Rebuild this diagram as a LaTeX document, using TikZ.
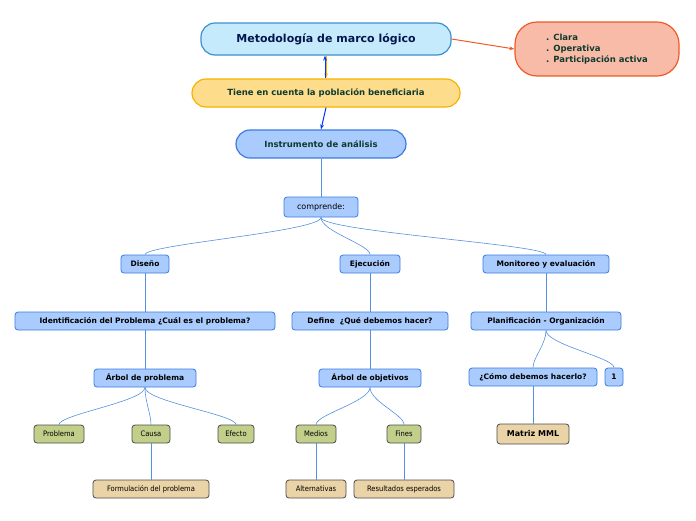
\documentclass[tikz,border=0pt]{standalone}
\usepackage{fontspec}
\setmainfont{DejaVu Sans}
\newfontfamily\condfont{DejaVu Sans Condensed}
\usetikzlibrary{arrows.meta}
\definecolor{titleFill}{HTML}{C5EAFB}
\definecolor{titleLine}{HTML}{3A90D0}
\definecolor{propFill}{HTML}{F8BBA8}
\definecolor{propLine}{HTML}{F05A28}
\definecolor{tieneFill}{HTML}{FDDD8C}
\definecolor{tieneLine}{HTML}{F5B300}
\definecolor{blueFill}{HTML}{A9CBFD}
\definecolor{blueLine}{HTML}{3B7BE0}
\definecolor{greenFill}{HTML}{C2CF8A}
\definecolor{tanFill}{HTML}{EAD3A6}
\definecolor{darkText}{HTML}{0E3B2E}
\definecolor{branch}{HTML}{5590E0}
\tikzset{
  box/.style={draw, line width=0.8pt, rounded corners=3pt, inner sep=0pt, align=center},
  pill/.style={box, rounded corners=14pt, line width=1.2pt},
  topic/.style={box, fill=blueFill, draw=blueLine, font=\bfseries\fontsize{7.5}{9}\selectfont, minimum height=18pt},
  leaf/.style={box, fill=greenFill, draw=black!70, font=\condfont\fontsize{7.5}{9}\selectfont, minimum height=18pt},
  tanleaf/.style={box, fill=tanFill, draw=black!70, font=\condfont\fontsize{7.5}{9}\selectfont, minimum height=18pt},
  link/.style={draw=branch, line width=0.6pt},
}
\newcommand{\branchTo}[2]{\draw[link] (#1.south) .. controls ([yshift=-14pt]#1.south) and ([yshift=10pt]#2.north) .. (#2.north);}
\begin{document}
\begin{tikzpicture}[x=1pt, y=-1pt]
  \useasboundingbox (0,0) rectangle (696,520);
  % main chain
  \node[pill, fill=titleFill, draw=titleLine, minimum width=250pt, minimum height=32pt, font=\bfseries\fontsize{11}{13}\selectfont, text=darkText!60!blue!60!black] (titulo) at (326,39) {Metodología de marco lógico};
  \node[pill, rounded corners=22pt, fill=propFill, draw=propLine, minimum width=164pt, minimum height=54pt, font=\bfseries\fontsize{8.5}{11}\selectfont, text=darkText, align=left] (props) at (597,49) {. Clara\\. Operativa\\. Participación activa};
  \node[pill, fill=tieneFill, draw=tieneLine, minimum width=268pt, minimum height=28pt, font=\bfseries\fontsize{8.5}{10}\selectfont, text=darkText] (tiene) at (326,93) {Tiene en cuenta la población beneficiaria};
  \node[pill, fill=blueFill, draw=blueLine, minimum width=170pt, minimum height=28pt, font=\bfseries\fontsize{8.5}{10}\selectfont, text=darkText] (instr) at (321,144) {Instrumento de análisis};
  \node[box, fill=blueFill, draw=blueLine, minimum width=74pt, minimum height=20pt, font=\fontsize{8}{10}\selectfont] (comprende) at (321,207) {comprende:};
  \draw[-{Stealth[length=5pt]}, draw=propLine, line width=1pt] (titulo.east) -- (props.west);
  \draw[-{Stealth[length=5pt]}, draw=tieneLine, line width=1pt] (titulo.south) -- (tiene.north);
  \draw[-{Stealth[length=5pt]}, draw=blue!80!cyan, line width=1pt] ([xshift=-1pt]tiene.north) -- ([xshift=-1pt]titulo.south);
  \draw[-{Stealth[length=5pt]}, draw=blue!80!cyan, line width=1pt] (tiene.south) -- (instr.north);
  \draw[link] (instr.south) -- (comprende.north);
  % level 1
  \node[topic, minimum width=48pt] (diseno) at (145,264) {Diseño};
  \node[topic, minimum width=60pt] (ejec) at (370,264) {Ejecución};
  \node[topic, minimum width=126pt] (monit) at (546,264) {Monitoreo y evaluación};
  \branchTo{comprende}{diseno}
  \branchTo{comprende}{ejec}
  \branchTo{comprende}{monit}
  % level 2
  \node[topic, minimum width=260pt] (ident) at (145,321) {Identificación del Problema ¿Cuál es el problema?};
  \node[topic, minimum width=156pt] (define) at (370,321) {Define \ ¿Qué debemos hacer?};
  \node[topic, minimum width=150pt] (planif) at (546,321) {Planificación - Organización};
  \draw[link] (diseno) -- (ident);
  \draw[link] (ejec) -- (define);
  \draw[link] (monit) -- (planif);
  % level 3
  \node[topic, minimum width=102pt] (arbolP) at (145,378) {Árbol de problema};
  \node[topic, minimum width=102pt] (arbolO) at (370,378) {Árbol de objetivos};
  \node[topic, minimum width=128pt] (como) at (533,377) {¿Cómo debemos hacerlo?};
  \node[topic, minimum width=18pt] (uno) at (614,377) {1};
  \draw[link] (ident) -- (arbolP);
  \draw[link] (define) -- (arbolO);
  \branchTo{planif}{como}
  \branchTo{planif}{uno}
  % level 4
  \node[leaf, minimum width=50pt] (problema) at (59,434) {Problema};
  \node[leaf, minimum width=38pt] (causa) at (151,434) {Causa};
  \node[leaf, minimum width=36pt] (efecto) at (236,434) {Efecto};
  \node[leaf, minimum width=40pt] (medios) at (316,434) {Medios};
  \node[leaf, minimum width=34pt] (fines) at (404,434) {Fines};
  \node[tanleaf, minimum width=72pt, minimum height=20pt, font=\bfseries\fontsize{8}{10}\selectfont] (matriz) at (533,434) {Matriz MML};
  \branchTo{arbolP}{problema}
  \branchTo{arbolP}{causa}
  \branchTo{arbolP}{efecto}
  \branchTo{arbolO}{medios}
  \branchTo{arbolO}{fines}
  \draw[link] (como) -- (matriz);
  % level 5
  \node[tanleaf, minimum width=116pt] (formul) at (151,489) {Formulación del problema};
  \node[tanleaf, minimum width=60pt] (altern) at (316,489) {Alternativas};
  \node[tanleaf, minimum width=100pt] (result) at (404,489) {Resultados esperados};
  \draw[link] (causa) -- (formul);
  \draw[link] (medios) -- (altern);
  \draw[link] (fines) -- (result);
\end{tikzpicture}
\end{document}
